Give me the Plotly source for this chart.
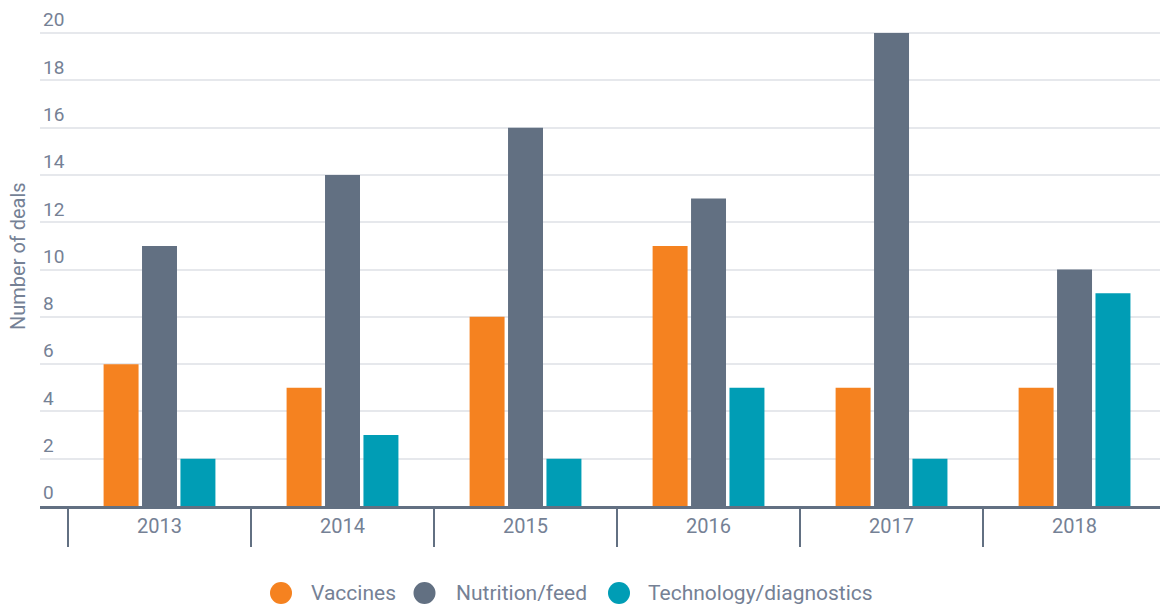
import plotly.graph_objects as go

years = ["2013", "2014", "2015", "2016", "2017", "2018"]
vaccines = [6, 5, 8, 11, 5, 5]
nutrition = [11, 14, 16, 13, 20, 10]
technology = [2, 3, 2, 5, 2, 9]

series = [
    ("Vaccines", vaccines, "#F58220"),
    ("Nutrition/feed", nutrition, "#627082"),
    ("Technology/diagnostics", technology, "#009DB5"),
]

text_color = "#758195"
axis_color = "#627082"

W, H = 1160, 604
M = dict(l=40, r=0, t=0, b=98)
plot_w = W - M["l"] - M["r"]
plot_h = H - M["t"] - M["b"]


def px_x(px):
    return (px - M["l"]) / plot_w


def px_y(py):
    return (H - M["b"] - py) / plot_h


fig = go.Figure()
for name, vals, color in series:
    fig.add_trace(go.Bar(
        x=years, y=vals, name=name, marker_color=color,
        marker_line_width=0, showlegend=False,
    ))

# legend drawn as circle swatches with labels below the axis
legend_slots = [(281, 309), (424.5, 454), (619, 646)]
legend_y = 593
shapes = []
annotations = []
for (cx, tx), (name, _, color) in zip(legend_slots, series):
    shapes.append(dict(
        type="circle", xref="paper", yref="paper",
        xsizemode="pixel", ysizemode="pixel",
        xanchor=px_x(cx), yanchor=px_y(legend_y),
        x0=-11, x1=11, y0=-11, y1=11,
        fillcolor=color, line=dict(width=0),
    ))
    annotations.append(dict(
        text=name, xref="paper", yref="paper",
        x=px_x(tx), y=px_y(legend_y), xanchor="left", yanchor="middle",
        showarrow=False, font=dict(size=21, color=text_color),
    ))

annotations.append(dict(
    text="Number of deals", xref="paper", yref="paper",
    x=px_x(18), y=px_y(256), xanchor="center", yanchor="middle",
    textangle=-90, showarrow=False,
    font=dict(size=20, color=text_color),
))

fig.update_layout(
    width=W, height=H,
    margin=M,
    paper_bgcolor="white", plot_bgcolor="white",
    font=dict(family="Roboto, sans-serif", color=text_color, size=20),
    barmode="group", bargap=0.37, bargroupgap=0.09,
    showlegend=False,
    shapes=shapes,
    annotations=annotations,
)

fig.update_xaxes(
    type="category", range=[-0.653, 5.467],
    showline=True, linecolor=axis_color, linewidth=2.5,
    ticks="outside", tickson="boundaries", ticklen=38, tickwidth=1.5,
    tickcolor=axis_color, showgrid=False,
    tickfont=dict(size=20, color=text_color),
)
fig.update_yaxes(
    range=[0, 21.4], dtick=2, tick0=0,
    showgrid=True, gridcolor="#E6E8EC", gridwidth=1.5,
    zeroline=False, showline=False,
    ticklabelposition="inside top",
    tickfont=dict(size=19, color=text_color),
)

fig.write_html("out.html")
